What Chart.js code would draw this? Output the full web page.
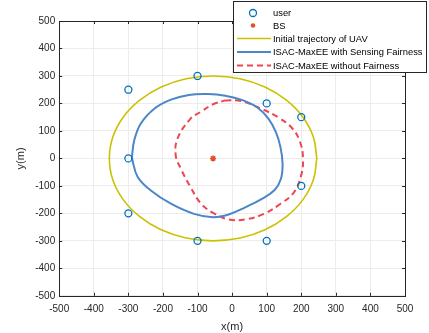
<!DOCTYPE html>
<html>
<head>
<meta charset="utf-8">
<script src="https://cdn.jsdelivr.net/npm/chart.js@4/dist/chart.umd.min.js"></script>
<style>
  html, body { margin: 0; padding: 0; background: #fff; }
  #wrap { width: 429px; height: 333px; }
</style>
</head>
<body>
<div id="wrap"><canvas id="traj"></canvas></div>
<script>
// user positions (m)
var userX = [-300, -100, 100, 200, -300, 200, -300, -100, 100];
var userY = [250, 300, 200, 150, 0, -100, -200, -300, -300];

// base station
var bsX = [-55];
var bsY = [0];

// initial trajectory
var initX = [245, 235, 205, 157, 95, 23, -55, -133, -205, -267, -315, -345, -355, -345, -315, -267, -205, -133, -55, 23, 95, 157, 205, 235, 245];
var initY = [0, 78, 150, 212, 260, 290, 300, 290, 260, 212, 150, 78, 0, -78, -150, -212, -260, -290, -300, -290, -260, -212, -150, -78, 0];

// ISAC-MaxEE with sensing fairness (blue)
var fairX = [-290, -283, -264, -225, -177, -125, -70, -20, 30, 72, 105, 127, 140, 146, 141, 123, 85, 38, -10, -55, -110, -177, -235, -273, -290];
var fairY = [2, 66, 127, 181, 214, 231, 234, 228, 212, 186, 145, 95, 40, -20, -75, -115, -148, -178, -204, -214, -202, -165, -117, -68, 2];

// ISAC-MaxEE without fairness (red dashed)
var noFairX = [-20, 25, 82, 135, 175, 197, 205, 200, 178, 140, 92, 38, -10, -55, -91, -120, -148, -163, -158, -120, -90, -55, -20];
var noFairY = [211, 209, 182, 148, 108, 58, 0, -60, -125, -165, -202, -222, -222, -198, -163, -105, -38, 10, 72, 145, 170, 197, 211];

var xTicks = [-500, -400, -300, -200, -100, 0, 100, 200, 300, 400, 500];
var yTicks = [-500, -400, -300, -200, -100, 0, 100, 200, 300, 400, 500];

function pts(xs, ys) {
  return xs.map(function (x, i) { return { x: x, y: ys[i] }; });
}

var FONT = 'Liberation Sans, Arial, sans-serif';
var TXT = '#262626';

// box, inward ticks and the legend drawn the MATLAB way
var matlabBox = {
  id: 'matlabBox',
  afterDraw: function (chart) {
    var ctx = chart.ctx, a = chart.chartArea;
    var sx = chart.scales.x, sy = chart.scales.y;
    ctx.save();
    ctx.strokeStyle = '#262626';
    ctx.lineWidth = 1;
    ctx.beginPath();
    xTicks.forEach(function (t) {
      var px = Math.round(sx.getPixelForValue(t)) + 0.5;
      ctx.moveTo(px, a.bottom); ctx.lineTo(px, a.bottom - 3);
      ctx.moveTo(px, a.top); ctx.lineTo(px, a.top + 3);
    });
    yTicks.forEach(function (t) {
      var py = Math.round(sy.getPixelForValue(t)) + 0.5;
      ctx.moveTo(a.left, py); ctx.lineTo(a.left + 3, py);
      ctx.moveTo(a.right, py); ctx.lineTo(a.right - 3, py);
    });
    ctx.stroke();
    ctx.strokeStyle = '#262626';
    ctx.strokeRect(Math.round(a.left) + 0.5, Math.round(a.top) + 0.5,
                   Math.round(a.right - a.left), Math.round(a.bottom - a.top));

    // legend
    var lx = 233.5, ly = 1.5, lw = 193, lh = 71;
    ctx.fillStyle = '#fff';
    ctx.fillRect(lx, ly, lw, lh);
    ctx.strokeStyle = '#262626';
    ctx.strokeRect(lx, ly, lw, lh);
    var rows = [13, 25.5, 38.5, 52, 65.5];
    ctx.font = '9.4px ' + FONT;
    ctx.textBaseline = 'middle';
    chart.data.datasets.forEach(function (ds, i) {
      var y = rows[i];
      ctx.save();
      if (ds.showLine) {
        ctx.strokeStyle = ds.borderColor;
        ctx.lineWidth = ds.borderWidth;
        ctx.setLineDash(ds.borderDash || []);
        ctx.beginPath(); ctx.moveTo(237, y); ctx.lineTo(271, y); ctx.stroke();
      } else if (ds.pointStyle === 'star') {
        ctx.fillStyle = ds.pointBorderColor;
        ctx.beginPath(); ctx.arc(253, y, 2.3, 0, Math.PI * 2); ctx.fill();
      } else {
        ctx.strokeStyle = ds.pointBorderColor;
        ctx.lineWidth = 1.3;
        ctx.beginPath(); ctx.arc(253, y, 3.5, 0, Math.PI * 2); ctx.stroke();
      }
      ctx.restore();
      ctx.fillStyle = '#000';
      ctx.fillText(ds.label, 273, y + 0.5);
    });
    ctx.restore();
  }
};

new Chart(document.getElementById('traj'), {
  type: 'scatter',
  data: {
    datasets: [
      { label: 'user', data: pts(userX, userY), showLine: false,
        pointStyle: 'circle', pointRadius: 3.5, pointBorderWidth: 1.3,
        pointBorderColor: '#0072BD', pointBackgroundColor: 'rgba(0,0,0,0)' },
      { label: 'BS', data: pts(bsX, bsY), showLine: false,
        pointStyle: 'star', pointRadius: 3, pointBorderWidth: 1.5,
        pointBorderColor: '#E0502A', pointBackgroundColor: '#E0502A' },
      { label: 'Initial trajectory of UAV', data: pts(initX, initY), showLine: true,
        borderColor: '#CCC100', borderWidth: 1.6, tension: 0.4, pointRadius: 0 },
      { label: 'ISAC-MaxEE with Sensing Fairness', data: pts(fairX, fairY), showLine: true,
        borderColor: '#4A86C8', borderWidth: 2, tension: 0.4, pointRadius: 0 },
      { label: 'ISAC-MaxEE without Fairness', data: pts(noFairX, noFairY), showLine: true,
        borderColor: '#EE4650', borderWidth: 2, borderDash: [6, 4], tension: 0.4, pointRadius: 0 }
    ]
  },
  options: {
    responsive: true,
    maintainAspectRatio: false,
    animation: false,
    layout: { padding: { left: 14, right: 24, top: 21, bottom: 0 } },
    plugins: { legend: { display: false }, tooltip: { enabled: false } },
    scales: {
      x: {
        type: 'linear', min: -500, max: 500,
        afterBuildTicks: function (s) { s.ticks = xTicks.map(function (v) { return { value: v }; }); },
        grid: { color: '#ececec', drawTicks: false },
        border: { display: false },
        ticks: { color: TXT, font: { family: FONT, size: 10 }, padding: 7, maxRotation: 0 },
        title: { display: true, text: 'x(m)', color: TXT, font: { family: FONT, size: 11 }, padding: { top: -1, bottom: -1 } }
      },
      y: {
        type: 'linear', min: -500, max: 500,
        afterBuildTicks: function (s) { s.ticks = yTicks.map(function (v) { return { value: v }; }); },
        grid: { color: '#ececec', drawTicks: false },
        border: { display: false },
        ticks: { color: TXT, font: { family: FONT, size: 10 }, padding: 4 },
        title: { display: true, text: 'y(m)', color: TXT, font: { family: FONT, size: 11 }, padding: { top: 0, bottom: 4 } }
      }
    }
  },
  plugins: [matlabBox]
});
</script>
</body>
</html>
